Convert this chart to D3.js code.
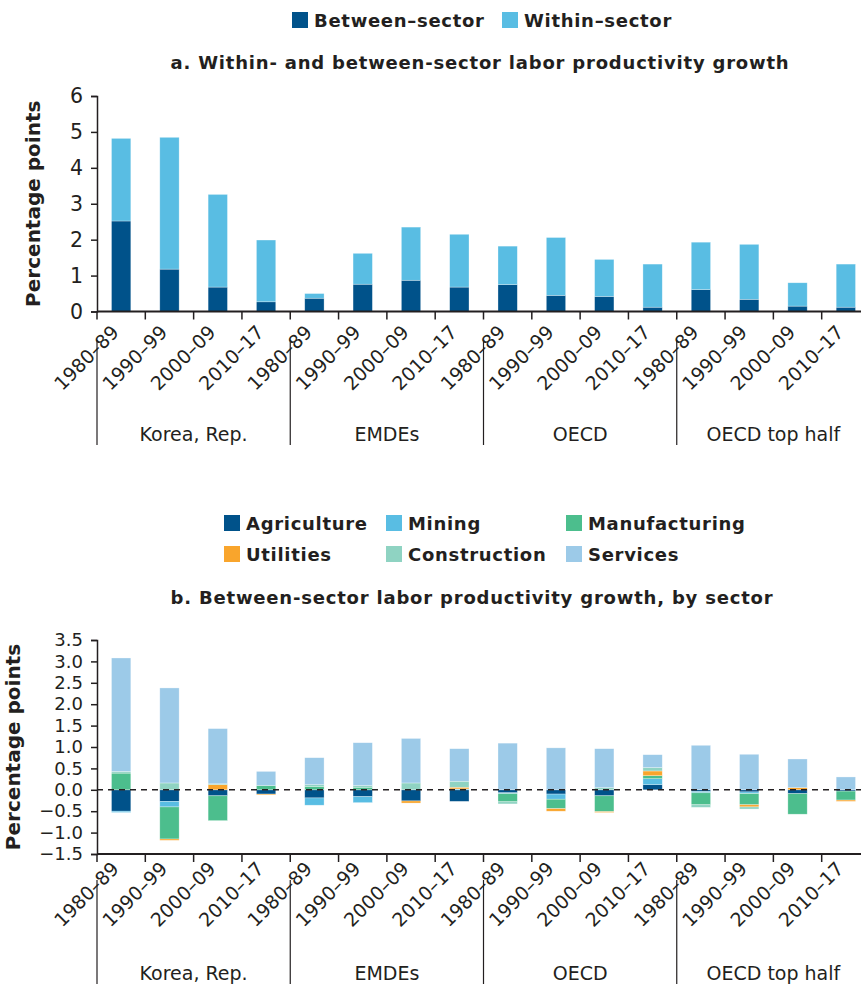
<!DOCTYPE html>
<html>
<head>
<meta charset="utf-8">
<script src="https://cdn.jsdelivr.net/npm/d3@7"></script>
<style>
  body { margin: 0; background: #fff; }
  svg text { font-family: "DejaVu Sans", sans-serif; fill: #231f20; }
</style>
</head>
<body>
<div id="svg-container"></div>
<script>
// categorieen
const groups = ["Korea, Rep.", "EMDEs", "OECD", "OECD top half"]
const periods = ["1980–89", "1990–99", "2000–09", "2010–17"]

// panel a: between en within (procentpunten)
const betweenSector = [2.52, 1.18, 0.68, 0.27, 0.37, 0.76, 0.87, 0.68, 0.75, 0.45, 0.42, 0.12, 0.61, 0.34, 0.15, 0.12]
const withinSector = [2.30, 3.67, 2.58, 1.72, 0.13, 0.86, 1.48, 1.47, 1.07, 1.61, 1.03, 1.20, 1.32, 1.53, 0.65, 1.20]

// panel b: between-sector per sector
const agriculture = [-0.50, -0.27, -0.14, -0.10, -0.19, -0.16, -0.26, -0.27, -0.07, -0.10, -0.14, 0.12, -0.04, -0.05, -0.09, -0.03]
const mining = [-0.03, -0.13, 0, 0, -0.17, -0.14, 0, 0.02, -0.02, -0.12, 0, 0.14, -0.03, -0.04, 0, 0]
const manufacturing = [0.39, -0.75, -0.58, 0.10, 0.08, 0.06, 0, 0, -0.19, -0.22, -0.37, 0.07, -0.28, -0.26, -0.48, -0.21]
const utilities = [0, -0.03, 0.12, -0.02, 0, 0, -0.05, 0.04, 0, -0.06, -0.02, 0.11, 0, -0.05, 0.05, -0.03]
const construction = [0.04, 0.16, 0.02, 0, 0.04, 0.04, 0.16, 0.14, -0.05, 0, 0.05, 0.08, -0.06, -0.05, 0, 0]
const services = [2.65, 2.22, 1.29, 0.33, 0.63, 1.00, 1.04, 0.76, 1.09, 0.98, 0.91, 0.30, 1.04, 0.83, 0.67, 0.30]

const ticksA = [0, 1, 2, 3, 4, 5, 6]
const ticksB = [-1.5, -1.0, -0.5, 0, 0.5, 1.0, 1.5, 2.0, 2.5, 3.0, 3.5]

const width = 861
const height = 984

const svg = d3.select('#svg-container')
    .append('svg').attr('width', width).attr('height', height)

// alle balken (groep + periode)
const bars = []
groups.forEach(g => periods.forEach(p => bars.push(g + '|' + p)))

const xScale = d3.scaleBand()
    .domain(bars)
    .range([97, 870])
    .paddingInner(0.6)
    .paddingOuter(0.3)
const step = xScale.step()
const boundary = i => xScale(bars[0]) - step * 0.3 + i * step

// x-as met gedraaide labels, scheidingslijnen en groepsnamen
function drawXAxis(y0, labelOffset, sepTop, sepBottom, groupY) {
    const g = svg.append('g')
    g.append('line')
        .attr('x1', 97).attr('x2', width)
        .attr('y1', y0).attr('y2', y0)
        .attr('stroke', '#231f20').attr('stroke-width', 2)
    g.selectAll('.tk')
        .data(d3.range(bars.length + 1))
        .enter().append('line')
        .attr('x1', boundary).attr('x2', boundary)
        .attr('y1', y0).attr('y2', y0 + 8)
        .attr('stroke', '#231f20').attr('stroke-width', 1.5)
    g.selectAll('.lbl')
        .data(bars)
        .enter().append('text')
        .attr('transform', d => `translate(${xScale(d) + xScale.bandwidth() / 2 - 1}, ${y0 + labelOffset}) rotate(-45)`)
        .attr('text-anchor', 'end')
        .attr('font-size', 19)
        .text(d => d.split('|')[1])
    g.selectAll('.sep')
        .data([0, 4, 8, 12])
        .enter().append('line')
        .attr('x1', boundary).attr('x2', boundary)
        .attr('y1', sepTop).attr('y2', sepBottom)
        .attr('stroke', '#231f20').attr('stroke-width', 1.2)
    g.selectAll('.grp')
        .data(groups)
        .enter().append('text')
        .attr('x', (d, i) => (boundary(i * 4) + boundary(i * 4 + 4)) / 2)
        .attr('y', groupY)
        .attr('text-anchor', 'middle')
        .attr('font-size', 19)
        .text(d => d)
}

function drawYAxis(yScale, ticks, fmt, labelX, fontSize) {
    const yAxis = d3.axisLeft(yScale)
        .tickValues(ticks)
        .tickFormat(fmt)
        .tickSize(6)
        .tickPadding(8)
    const yAxisG = svg.append('g')
        .attr('transform', 'translate(97, 0)')
        .call(yAxis)
    yAxisG.select('.domain').attr('stroke', '#231f20').attr('stroke-width', 1.5)
    yAxisG.selectAll('.tick line').attr('stroke', '#231f20').attr('stroke-width', 1.5)
    yAxisG.selectAll('.tick text')
        .attr('font-size', fontSize)
        .attr('fill', '#231f20')
        .attr('font-family', '"DejaVu Sans", sans-serif')
    const r = yScale.range()
    svg.append('text')
        .attr('transform', `translate(${labelX}, ${(r[0] + r[1]) / 2}) rotate(-90)`)
        .attr('text-anchor', 'middle')
        .attr('font-size', 20)
        .attr('font-weight', 'bold')
        .text('Percentage points')
}

function legendItem(x, y, color, label) {
    svg.append('rect').attr('x', x).attr('y', y - 15).attr('width', 16).attr('height', 16).attr('fill', color)
    svg.append('text').attr('x', x + 22).attr('y', y)
        .attr('font-size', 18).attr('font-weight', 'bold')
        .attr('letter-spacing', 0.7)
        .text(label)
}

// ---------- panel a ----------
const colorsA = { between: '#00528a', within: '#59bde3' }
legendItem(292, 27, colorsA.between, 'Between–sector')
legendItem(502, 27, colorsA.within, 'Within–sector')

svg.append('text')
    .attr('x', 480).attr('y', 69)
    .attr('text-anchor', 'middle')
    .attr('font-size', 18).attr('font-weight', 'bold')
    .attr('letter-spacing', 0.8)
    .text('a. Within- and between-sector labor productivity growth')

const yA = d3.scaleLinear().domain([0, 6]).range([311.5, 96])

const tableA = bars.map((b, i) => ({ bar: b, between: betweenSector[i], within: withinSector[i] }))
const stackA = d3.stack().keys(['between', 'within'])(tableA)

svg.append('g').selectAll('g')
    .data(stackA)
    .enter().append('g')
    .attr('fill', d => colorsA[d.key])
    .selectAll('rect')
    .data(d => d)
    .enter().append('rect')
    .attr('x', d => xScale(d.data.bar))
    .attr('width', xScale.bandwidth())
    .attr('y', d => yA(d[1]))
    .attr('height', d => yA(d[0]) - yA(d[1]))
    .attr('stroke', '#ffffff').attr('stroke-opacity', 0.5).attr('stroke-width', 0.6)

drawYAxis(yA, ticksA, d3.format('d'), 40, 20.5)
drawXAxis(311.5, 22, 340, 445, 441)

// ---------- panel b ----------
const sectors = ['Agriculture', 'Mining', 'Manufacturing', 'Utilities', 'Construction', 'Services']
const colorsB = {
    Agriculture: '#00528a',
    Mining: '#59bde3',
    Manufacturing: '#4cbe8d',
    Utilities: '#f9a52c',
    Construction: '#8fd3c2',
    Services: '#9ccae8'
}
const sectorValues = { Agriculture: agriculture, Mining: mining, Manufacturing: manufacturing, Utilities: utilities, Construction: construction, Services: services }

legendItem(224, 530, colorsB.Agriculture, 'Agriculture')
legendItem(386, 530, colorsB.Mining, 'Mining')
legendItem(566, 530, colorsB.Manufacturing, 'Manufacturing')
legendItem(224, 561, colorsB.Utilities, 'Utilities')
legendItem(386, 561, colorsB.Construction, 'Construction')
legendItem(566, 561, colorsB.Services, 'Services')

svg.append('text')
    .attr('x', 472).attr('y', 604)
    .attr('text-anchor', 'middle')
    .attr('font-size', 18).attr('font-weight', 'bold')
    .attr('letter-spacing', 0.8)
    .text('b. Between-sector labor productivity growth, by sector')

const yB = d3.scaleLinear().domain([-1.5, 3.5]).range([854, 640])

const tableB = bars.map((b, i) => {
    const row = { bar: b }
    sectors.forEach(s => { row[s] = sectorValues[s][i] })
    return row
})
const stackB = d3.stack().keys(sectors).offset(d3.stackOffsetDiverging)(tableB)

svg.append('g').selectAll('g')
    .data(stackB)
    .enter().append('g')
    .attr('fill', d => colorsB[d.key])
    .selectAll('rect')
    .data(d => d.filter(v => v[1] !== v[0]))
    .enter().append('rect')
    .attr('x', d => xScale(d.data.bar))
    .attr('width', xScale.bandwidth())
    .attr('y', d => yB(Math.max(d[0], d[1])))
    .attr('height', d => Math.abs(yB(d[0]) - yB(d[1])))
    .attr('stroke', '#ffffff').attr('stroke-opacity', 0.5).attr('stroke-width', 0.6)

// nul-lijn gestippeld
svg.append('line')
    .attr('x1', 97).attr('x2', width)
    .attr('y1', yB(0)).attr('y2', yB(0))
    .attr('stroke', '#231f20').attr('stroke-width', 1.5)
    .attr('stroke-dasharray', '6,5')

drawYAxis(yB, ticksB, d3.format('.1f'), 20, 18)
drawXAxis(854, 16, 880, 984, 980)
</script>
</body>
</html>
